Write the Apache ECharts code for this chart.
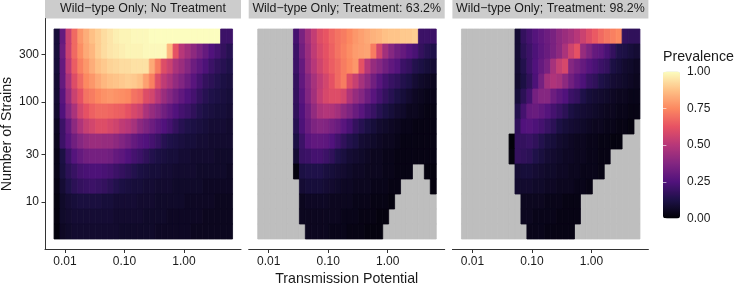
<!DOCTYPE html>
<html><head><meta charset="utf-8">
<style>html,body{margin:0;padding:0;background:#fff}#c{width:735px;height:283px}</style>
<script src="https://cdn.jsdelivr.net/npm/echarts@6/dist/echarts.min.js"></script>
</head><body><div id="c"></div>
<script>
const _ = null;
const panelTitles = ['Wild\u2212type Only; No Treatment','Wild\u2212type Only; Treatment: 63.2%','Wild\u2212type Only; Treatment: 98.2%'];
const logPotential = [-2.134,-2.034,-1.934,-1.834,-1.734,-1.634,-1.534,-1.434,-1.334,-1.234,-1.134,-1.034,-0.934,-0.834,-0.734,-0.634,-0.534,-0.434,-0.334,-0.234,-0.134,-0.034,0.066,0.166,0.266,0.366,0.466,0.566,0.666,0.766];
const logStrains = [2.655,2.505,2.355,2.205,2.055,1.905,1.755,1.605,1.455,1.305,1.155,1.005,0.855,0.705];
const xTicks = [-2,-1,0];
const yTicks = [1,1.4771,2,2.4771];
const legendBreaks = [0,0.25,0.5,0.75,1];
const magma = ['#000004','#1d1147','#51127c','#832681','#b73779','#e75263','#fc8961','#fec287','#fcfdbf'];

const noTreatment = [
[.1,.3,.55,.68,.78,.83,.87,.9,.93,.95,.97,.98,.98,.99,.99,.99,1,1,1,1,1,1,1,1,1,1,1,1,.2,.2],
[.1,.32,.55,.68,.76,.82,.85,.9,.93,.95,.96,.97,.98,.98,.98,.99,.99,.99,.99,.85,.62,.5,.45,.4,.35,.3,.25,.22,.18,.15],
[.1,.3,.52,.65,.73,.78,.83,.87,.89,.91,.92,.93,.93,.94,.94,.94,.82,.72,.6,.55,.47,.43,.38,.32,.28,.24,.2,.17,.15,.13],
[.09,.3,.47,.6,.68,.75,.78,.82,.85,.87,.88,.89,.9,.89,.87,.8,.73,.6,.52,.47,.41,.37,.32,.27,.22,.18,.16,.14,.12,.11],
[.09,.27,.43,.55,.62,.7,.72,.75,.77,.78,.77,.76,.75,.7,.68,.6,.57,.5,.43,.38,.33,.29,.25,.22,.18,.15,.13,.12,.11,.1],
[.08,.25,.38,.47,.57,.62,.66,.68,.68,.67,.66,.65,.62,.58,.55,.47,.42,.38,.33,.29,.25,.22,.2,.17,.14,.12,.11,.1,.1,.09],
[.06,.2,.3,.4,.48,.54,.57,.6,.6,.58,.56,.52,.5,.46,.4,.36,.32,.28,.25,.22,.18,.15,.13,.12,.11,.1,.09,.09,.09,.08],
[.05,.2,.27,.33,.38,.41,.43,.43,.42,.42,.4,.37,.34,.3,.27,.25,.22,.19,.15,.13,.12,.11,.1,.1,.09,.09,.08,.08,.08,.08],
[.04,.12,.2,.26,.3,.33,.34,.34,.34,.33,.3,.28,.25,.22,.2,.17,.14,.12,.11,.1,.1,.09,.09,.08,.08,.08,.08,.07,.07,.07],
[.04,.11,.16,.19,.22,.23,.24,.24,.23,.22,.2,.18,.16,.14,.12,.11,.1,.1,.09,.09,.08,.08,.08,.08,.07,.07,.07,.07,.07,.06],
[.03,.09,.13,.16,.18,.19,.2,.19,.18,.16,.14,.12,.11,.1,.1,.09,.09,.08,.08,.08,.07,.07,.07,.07,.07,.06,.06,.06,.06,.06],
[.02,.07,.09,.1,.11,.11,.11,.11,.1,.1,.09,.09,.09,.09,.08,.08,.08,.07,.07,.07,.07,.07,.06,.06,.06,.06,.06,.05,.05,.05],
[.02,.07,.08,.09,.09,.09,.09,.09,.09,.09,.08,.08,.08,.08,.08,.07,.07,.07,.07,.06,.06,.06,.06,.06,.06,.05,.05,.05,.05,.05],
[.015,.06,.07,.08,.08,.08,.08,.08,.08,.08,.08,.07,.07,.07,.07,.07,.07,.06,.06,.06,.06,.06,.06,.05,.05,.05,.05,.05,.05,.05]
];
const treatment63 = [
[_,_,_,_,_,_,.22,.35,.45,.53,.6,.63,.67,.7,.72,.75,.78,.8,.82,.84,.85,.87,.88,.88,.89,.89,.9,.2,.2,.2],
[_,_,_,_,_,_,.2,.33,.43,.52,.58,.62,.66,.7,.73,.76,.79,.8,.81,.72,.57,.45,.38,.33,.3,.26,.23,.18,.15,.13],
[_,_,_,_,_,_,.2,.3,.42,.5,.56,.61,.65,.68,.72,.75,.78,.62,.5,.42,.38,.33,.29,.26,.2,.18,.14,.12,.1,.09],
[_,_,_,_,_,_,.18,.29,.38,.46,.52,.57,.62,.68,.72,.6,.54,.46,.4,.33,.27,.22,.19,.17,.14,.12,.09,.07,.06,.05],
[_,_,_,_,_,_,.18,.27,.37,.45,.53,.58,.6,.6,.57,.48,.42,.38,.32,.27,.22,.18,.15,.12,.1,.08,.06,.05,.04,.04],
[_,_,_,_,_,_,.17,.25,.33,.41,.47,.49,.48,.45,.4,.36,.31,.27,.22,.19,.15,.12,.1,.08,.07,.05,.05,.04,.03,.03],
[_,_,_,_,_,_,.15,.24,.31,.36,.38,.37,.34,.31,.27,.23,.18,.15,.12,.1,.08,.07,.06,.05,.04,.04,.03,.03,.03,.03],
[_,_,_,_,_,_,.12,.2,.27,.29,.29,.28,.25,.21,.17,.14,.12,.09,.08,.07,.06,.05,.05,.04,.03,.03,.03,.03,.03,.03],
[_,_,_,_,_,_,.09,.19,.2,.22,.22,.2,.17,.13,.11,.09,.08,.07,.06,.05,.05,.04,.04,.03,.03,.03,.03,.03,.03,.03],
[_,_,_,_,_,_,.02,.12,.13,.13,.13,.11,.1,.09,.08,.07,.06,.06,.05,.05,.05,.04,.04,.03,.03,.03,_,_,.02,.02],
[_,_,_,_,_,_,_,.09,.1,.1,.1,.09,.08,.07,.06,.06,.05,.05,.05,.04,.04,.04,.03,.03,_,_,_,_,_,.02],
[_,_,_,_,_,_,_,.05,.06,.06,.06,.06,.05,.05,.05,.05,.04,.04,.04,.03,.03,.03,.02,_,_,_,_,_,_,_],
[_,_,_,_,_,_,_,.05,.05,.05,.05,.05,.05,.05,.04,.04,.04,.03,.03,.03,.02,.02,_,_,_,_,_,_,_,_],
[_,_,_,_,_,_,_,_,.05,.05,.05,.05,.04,.04,.04,.03,.03,.03,.02,.02,.02,_,_,_,_,_,_,_,_,_]
];
const treatment98 = [
[_,_,_,_,_,_,_,_,_,.09,.18,.22,.26,.29,.32,.35,.4,.43,.46,.5,.55,.6,.64,.68,.71,.73,.75,.18,.17,.17],
[_,_,_,_,_,_,_,_,_,.09,.16,.2,.24,.28,.31,.35,.4,.47,.56,.62,.42,.36,.3,.28,.23,.18,.13,.12,.1,.09],
[_,_,_,_,_,_,_,_,_,.09,.14,.2,.25,.3,.35,.46,.54,.58,.38,.34,.3,.26,.23,.2,.18,.12,.1,.08,.07,.06],
[_,_,_,_,_,_,_,_,_,.08,.12,.17,.24,.34,.45,.48,.46,.4,.33,.28,.24,.19,.17,.13,.11,.09,.08,.07,.06,.05],
[_,_,_,_,_,_,_,_,_,.1,.16,.22,.34,.38,.38,.32,.28,.25,.2,.18,.13,.1,.09,.08,.07,.06,.05,.05,.04,.04],
[_,_,_,_,_,_,_,_,_,.14,.22,.3,.31,.29,.26,.22,.19,.16,.12,.1,.09,.08,.07,.06,.05,.05,.04,.04,.03,.03],
[_,_,_,_,_,_,_,_,_,.17,.25,.26,.24,.22,.19,.16,.12,.1,.09,.08,.07,.06,.05,.05,.04,.04,.03,.03,.02,_],
[_,_,_,_,_,_,_,_,.01,.18,.18,.19,.17,.14,.11,.1,.08,.07,.06,.05,.05,.04,.04,.03,.03,.02,.02,_,_,_],
[_,_,_,_,_,_,_,_,.02,.18,.17,.16,.13,.11,.09,.08,.07,.06,.06,.05,.05,.04,.04,.03,.03,_,_,_,_,_],
[_,_,_,_,_,_,_,_,_,.09,.1,.1,.09,.08,.07,.07,.06,.06,.05,.05,.04,.04,.04,.03,_,_,_,_,_,_],
[_,_,_,_,_,_,_,_,_,.08,.08,.08,.07,.07,.06,.06,.05,.05,.05,.04,.04,.03,_,_,_,_,_,_,_,_],
[_,_,_,_,_,_,_,_,_,_,.05,.05,.05,.05,.04,.04,.04,.03,.03,.03,_,_,_,_,_,_,_,_,_,_],
[_,_,_,_,_,_,_,_,_,_,.05,.05,.04,.04,.04,.04,.03,.03,.03,.03,_,_,_,_,_,_,_,_,_,_],
[_,_,_,_,_,_,_,_,_,_,_,.04,.04,.04,.03,.03,.03,.03,.03,_,_,_,_,_,_,_,_,_,_,_]
];
const panels = [noTreatment, treatment63, treatment98];

const font = '"Liberation Sans", Helvetica, Arial, sans-serif';
const ink = '#1a1a1a', axisInk = '#333333';
const lefts = [45, 248.7, 452.4], panelW = 196, plotTop = 18.5, plotH = 231;
const xMin = -2.336, xMax = 0.958, yMin = 0.525, yMax = 2.835;

function rectItem(params, api) {
  const c = api.coord([api.value(0), api.value(1)]);
  const s = api.size([0.1, 0.15]);
  const f = api.visual('color');
  return {type:'rect', shape:{x:c[0]-s[0]/2, y:c[1]-s[1]/2, width:s[0], height:s[1]},
          style:{fill:f, stroke:f, lineWidth:0.8}};
}
const grids=[], xAxes=[], yAxes=[], series=[], titles=[], strips=[];
panels.forEach((rows,p)=>{
  grids.push({left:lefts[p], top:plotTop, width:panelW, height:plotH, outerBoundsMode:'none'});
  xAxes.push({type:'value', gridIndex:p, min:xMin, max:xMax,
    name:p===1?'Transmission Potential':'', nameLocation:'middle', nameGap:19,
    nameTextStyle:{fontFamily:font,fontSize:14.2,color:ink,verticalAlign:'top',lineHeight:14},
    splitLine:{show:false}, axisLine:{onZero:false,lineStyle:{color:axisInk,width:1}},
    axisTick:{length:3.5,lineStyle:{color:axisInk,width:1},customValues:xTicks},
    axisLabel:{customValues:xTicks,margin:6,fontFamily:font,fontSize:12,color:ink,formatter:v=>Math.pow(10,v).toFixed(2)}});
  yAxes.push({type:'value', gridIndex:p, min:yMin, max:yMax, show:p===0,
    name:p===0?'Number of Strains':'', nameLocation:'middle', nameGap:31, nameRotate:90,
    nameTextStyle:{fontFamily:font,fontSize:14.2,color:ink},
    splitLine:{show:false}, axisLine:{show:true,onZero:false,lineStyle:{color:axisInk,width:1}},
    axisTick:{length:3.5,lineStyle:{color:axisInk,width:1},customValues:yTicks},
    axisLabel:{customValues:yTicks,margin:6,fontFamily:font,fontSize:12,color:ink,formatter:v=>String(Math.round(Math.pow(10,v)))}});
  const cells=[], missing=[];
  rows.forEach((r,j)=>r.forEach((v,i)=>{
    if(v===null) missing.push([logPotential[i],logStrains[j]]);
    else cells.push([logPotential[i],logStrains[j],v]);
  }));
  series.push({type:'custom',name:panelTitles[p]+' NA',xAxisIndex:p,yAxisIndex:p,coordinateSystem:'cartesian2d',
    renderItem:rectItem,data:missing,encode:{x:0,y:1},silent:true,z:1,itemStyle:{color:'#bebebe'}});
  series.push({type:'custom',name:panelTitles[p],xAxisIndex:p,yAxisIndex:p,coordinateSystem:'cartesian2d',
    renderItem:rectItem,data:cells,encode:{x:0,y:1},silent:true,z:2});
  titles.push({text:panelTitles[p],left:lefts[p]+panelW/2,top:3,textAlign:'center',padding:0,
    textStyle:{fontFamily:font,fontSize:12.4,fontWeight:'normal',color:ink}});
  strips.push({type:'rect',z:-1,shape:{x:lefts[p],y:0,width:panelW,height:18.5},style:{fill:'#cccccc'}});
});
titles.push({text:'Prevalence',left:663,top:50,padding:0,textStyle:{fontFamily:font,fontSize:14.2,fontWeight:'normal',color:ink}});
// colour-bar axes (labels on the right, white ticks on both sides)
const barTop=71.5, barH=147, barL=663, barW=17;
grids.push({left:barL,top:barTop,width:barW,height:barH,z:6,outerBoundsMode:'none'});
xAxes.push({type:'value',gridIndex:3,min:0,max:1,show:false});
xAxes.push({type:'value',gridIndex:3,min:0,max:1,show:false});
const barAxis=(pos,labels)=>({type:'value',gridIndex:3,position:pos,min:0,max:1,interval:.25,z:6,
  splitLine:{show:false},axisLine:{show:false},
  axisTick:{inside:true,length:3.4,lineStyle:{color:'#ffffff',width:.6}},
  axisLabel:{show:labels,margin:7,fontFamily:font,fontSize:12,color:ink,formatter:v=>v.toFixed(2),customValues:legendBreaks}});
yAxes.push(barAxis('right',true));
yAxes.push(barAxis('left',false));

const chart=echarts.init(document.getElementById('c'),null,{renderer:'canvas'});
chart.setOption({
  animation:false,backgroundColor:'#fff',
  title:titles,grid:grids,xAxis:xAxes,yAxis:yAxes,series,
  tooltip:{show:false},
  visualMap:{type:'continuous',min:0,max:1,dimension:2,seriesIndex:[1,3,5],left:barL,top:barTop,padding:0,
    itemWidth:barW,itemHeight:barH,calculable:false,text:null,hoverLink:false,z:1,
    inRange:{color:magma},textStyle:{color:'transparent',fontSize:1}},
  graphic:strips
});
</script></body></html>
